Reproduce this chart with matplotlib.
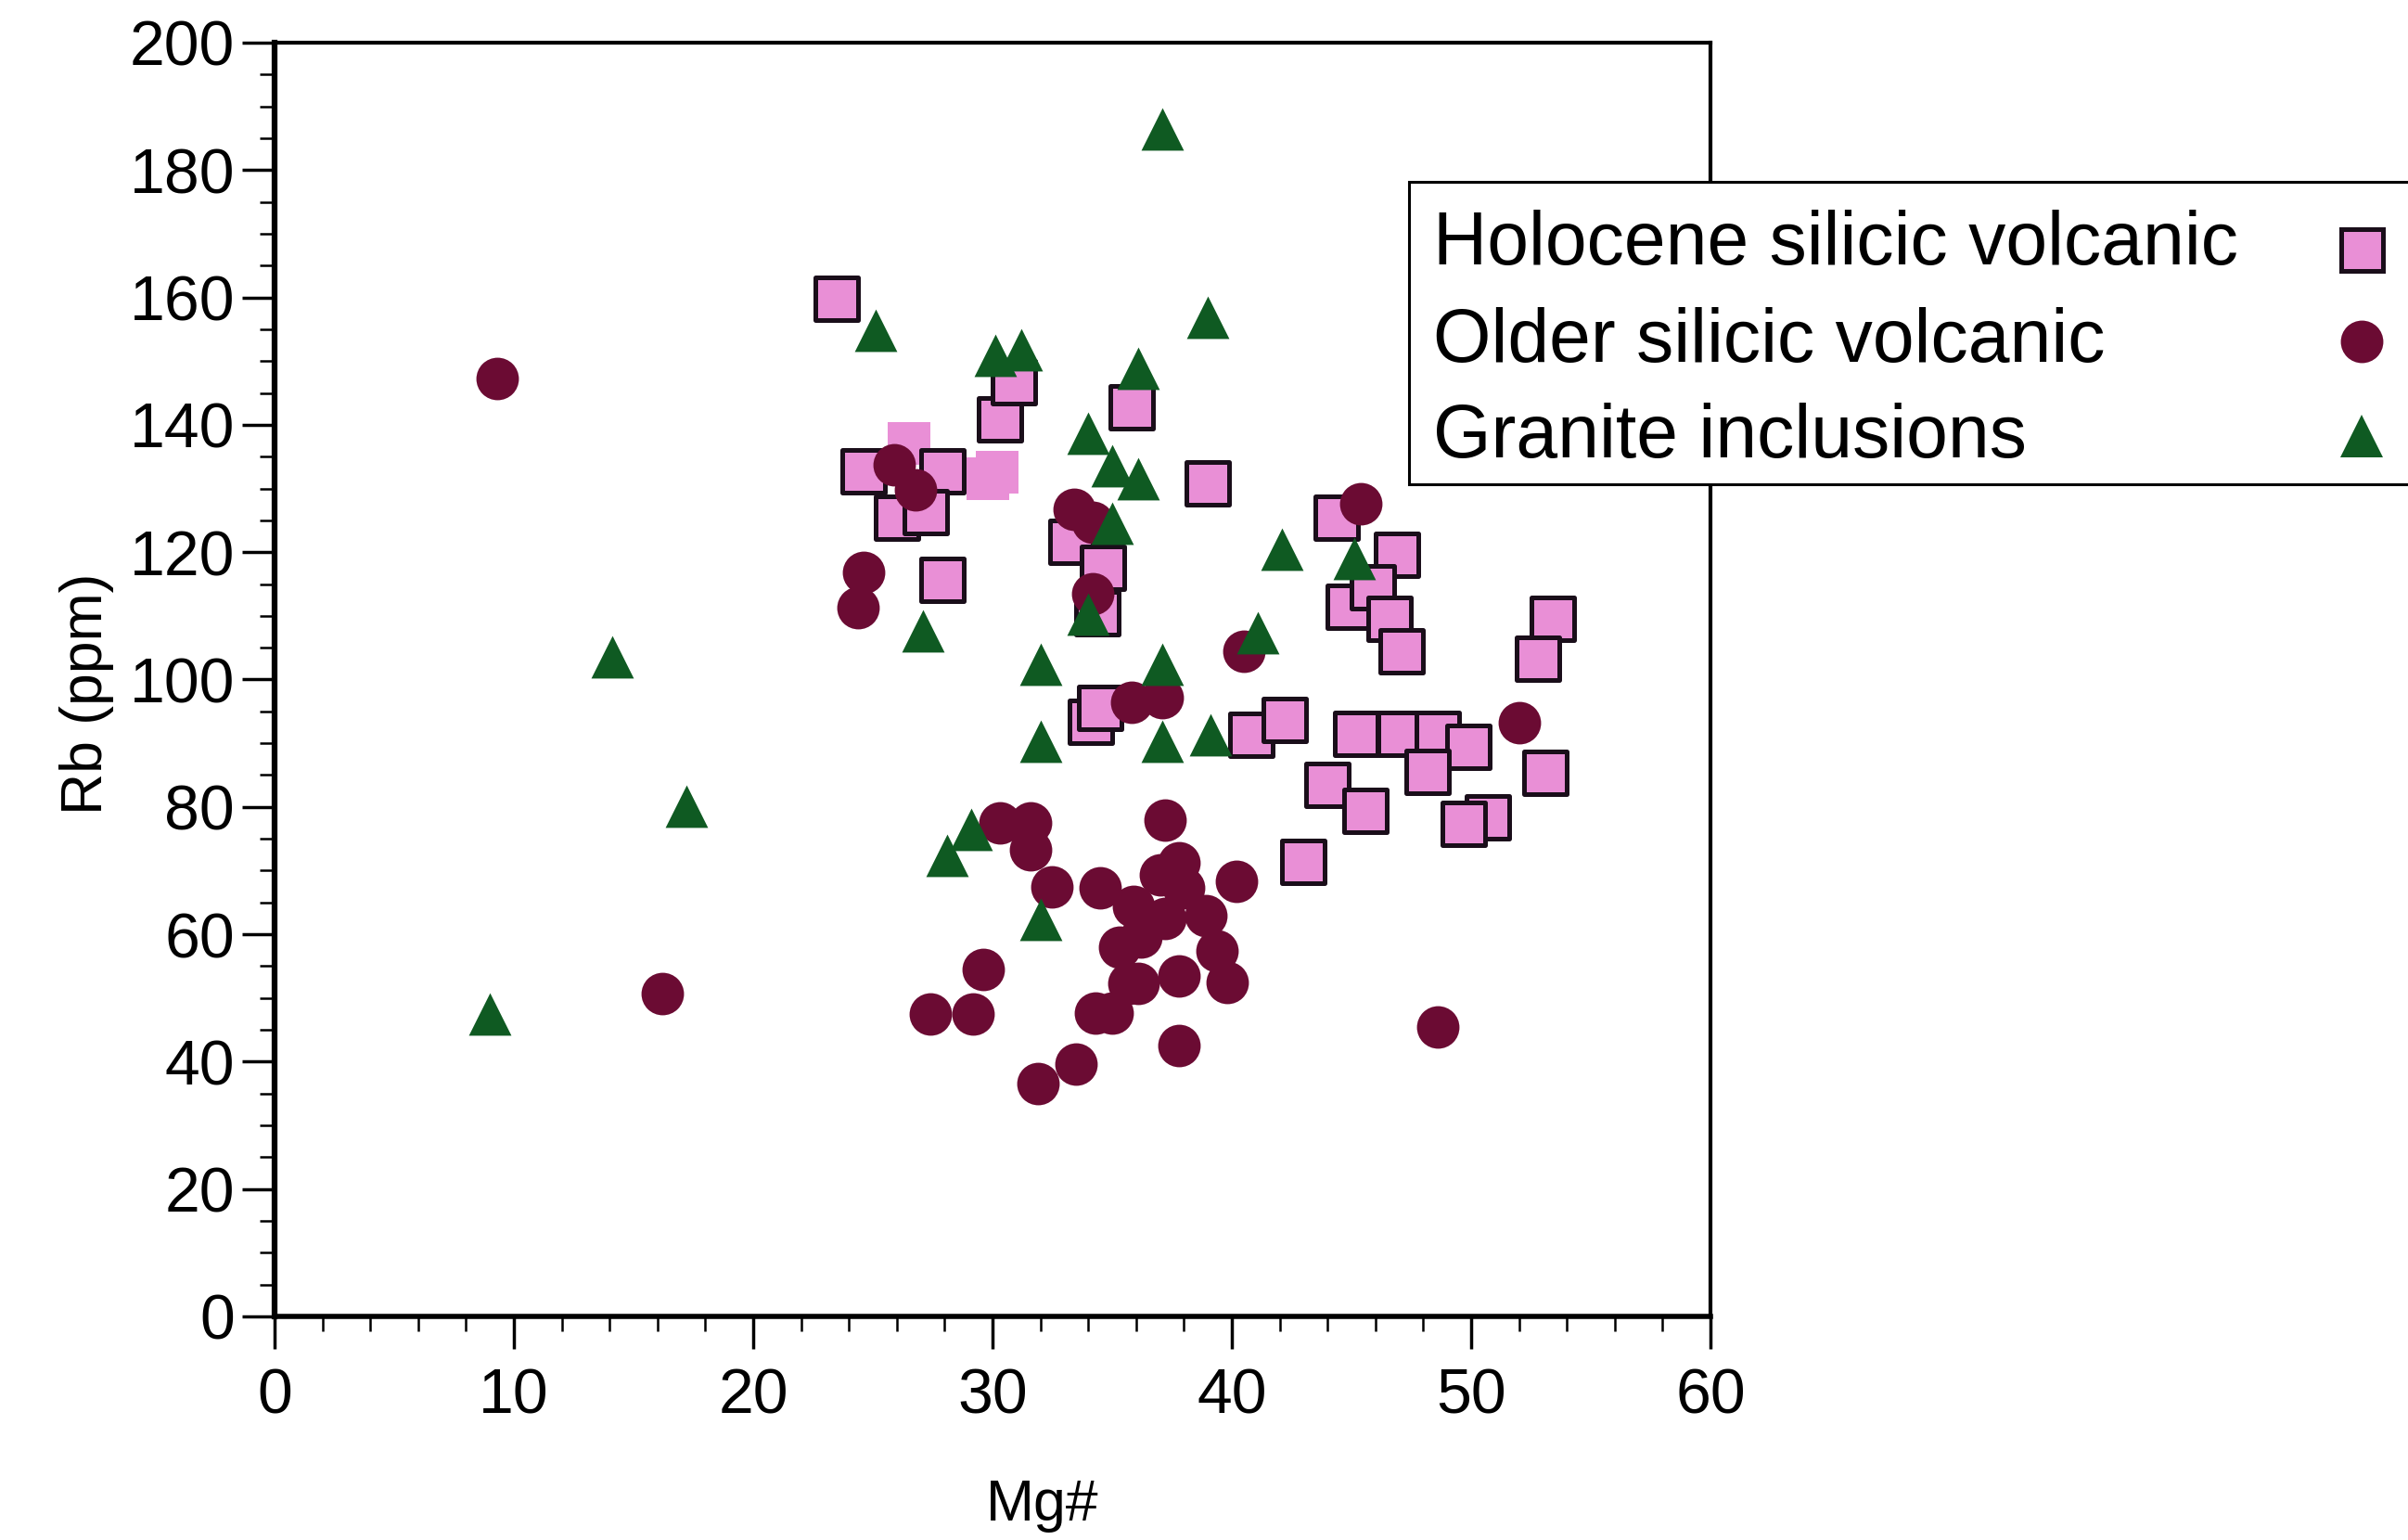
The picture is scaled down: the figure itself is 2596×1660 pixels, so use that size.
import matplotlib.pyplot as plt
from matplotlib.ticker import MultipleLocator
from matplotlib.patches import Rectangle
from matplotlib.lines import Line2D

plt.rcParams['font.family'] = ['Liberation Sans', 'DejaVu Sans']

# Holocene silicic volcanic (outlined squares)
holo_x = [23.5, 24.6, 27.9, 26.0, 27.2, 27.9, 30.3, 30.9, 35.8, 39.0, 33.3, 34.6,
          34.4, 34.1, 34.5, 40.8, 42.2, 44.4, 46.9, 44.9, 45.9, 46.6, 47.1, 53.4,
          52.8, 53.1, 45.2, 47.0, 48.6, 49.9, 48.2, 44.0, 45.6, 50.7, 49.7, 43.0]
holo_y = [159.8, 132.7, 132.7, 125.4, 126.3, 115.7, 140.9, 146.7, 142.8, 130.8, 121.6, 117.5,
          110.4, 93.4, 95.5, 91.4, 93.6, 125.4, 119.6, 111.4, 114.5, 109.5, 104.5, 109.5,
          103.3, 85.4, 91.5, 91.5, 91.5, 89.5, 85.5, 83.5, 79.4, 78.4, 77.4, 71.4]
# Holocene points printed without outline
holo2_x = [26.5, 29.8, 30.2]
holo2_y = [137.0, 131.6, 132.6]

# Older silicic volcanic (circles)
old_x = [9.3, 16.2, 48.6, 25.9, 26.8, 24.6, 24.4, 33.4, 34.2, 34.2, 40.5, 35.8,
         37.1, 45.4, 52.0, 30.3, 31.6, 31.6, 32.5, 29.6, 29.2, 27.4, 31.9, 33.5,
         37.8, 37.2, 40.2, 34.5, 37.0, 37.8, 38.0, 38.9, 39.4, 39.8, 37.8, 35.3,
         35.7, 36.1, 34.3, 35.0, 35.9, 37.2, 36.2]
old_y = [147.2, 50.7, 45.4, 133.7, 129.8, 116.8, 111.3, 126.7, 124.7, 113.5, 104.5, 96.5,
         97.2, 127.6, 93.2, 77.5, 77.5, 73.3, 67.4, 54.5, 47.5, 47.5, 36.5, 39.6,
         42.5, 77.9, 68.3, 67.3, 69.3, 71.2, 67.3, 62.9, 57.4, 52.4, 53.4, 57.9,
         52.3, 52.3, 47.6, 47.6, 64.4, 62.5, 59.6]

# Granite inclusions (triangles)
gran_x = [37.1, 25.1, 30.1, 31.2, 39.0, 36.1, 34.0, 35.0, 36.1, 35.0, 34.0, 27.1,
          41.1, 42.1, 45.1, 32.0, 37.1, 32.0, 37.1, 39.1, 28.1, 29.1, 32.0, 14.1,
          17.2, 9.0]
gran_y = [186.5, 154.9, 150.9, 151.8, 156.9, 148.9, 138.7, 133.6, 131.6, 124.5, 110.3, 107.6,
          107.4, 120.5, 119.0, 102.4, 102.4, 90.3, 90.3, 91.3, 72.4, 76.5, 62.4, 103.5,
          80.1, 47.5]

labels = ['Holocene silicic volcanic', 'Older silicic volcanic', 'Granite inclusions']

pink = '#E98FD6'
maroon = '#6B0B33'
green = '#0F5A22'
edge = '#1A0E1A'

W, H = 2596, 1660
fig = plt.figure(figsize=(W / 100, H / 100), dpi=100)
ax = fig.add_axes([0.1140, 0.1452, 0.5963, 0.8271])

ax.scatter(holo2_x, holo2_y, s=1050, marker='s', color=pink, linewidths=0, zorder=2)
ax.scatter(holo_x, holo_y, s=1050, marker='s', facecolor=pink, edgecolor=edge,
           linewidths=3.6, zorder=3)
ax.scatter(old_x, old_y, s=1089, marker='o', color=maroon, linewidths=0, zorder=4)
ax.scatter(gran_x, gran_y, s=1089, marker='^', color=green, linewidths=0, zorder=5)

ax.set_xlim(0, 60)
ax.set_ylim(0, 200)
ax.xaxis.set_major_locator(MultipleLocator(10))
ax.xaxis.set_minor_locator(MultipleLocator(2))
ax.yaxis.set_major_locator(MultipleLocator(20))
ax.yaxis.set_minor_locator(MultipleLocator(5))

ax.tick_params(axis='both', which='major', direction='out', length=25, width=2.5,
               labelsize=49, colors='black')
ax.tick_params(axis='both', which='minor', direction='out', length=11.5, width=1.8)
ax.tick_params(axis='x', which='major', pad=14)
ax.tick_params(axis='y', which='major', pad=6)

ax.spines['left'].set_linewidth(4.5)
ax.spines['bottom'].set_linewidth(4)
ax.spines['top'].set_linewidth(3)
ax.spines['right'].set_linewidth(3)

ax.set_xlabel('Mg#', fontsize=45, va='top')
ax.set_ylabel('Rb (ppm)', fontsize=45)
ax.xaxis.set_label_coords(0.535, -0.127)
ax.yaxis.set_label_coords(-0.112, 0.489)

# legend box: text on the left, symbol on the right, running off the page edge
fig.add_artist(Rectangle((1519 / W, 1 - 522 / H), (W + 20 - 1519) / W, (522 - 196) / H,
                         transform=fig.transFigure, facecolor='white',
                         edgecolor='black', linewidth=2.2, zorder=10))
baselines = [285, 390, 493]
marker_y = [269, 368, 470]
styles = [dict(marker='s', markersize=32.4, markerfacecolor=pink, markeredgecolor=edge,
               markeredgewidth=3.6),
          dict(marker='o', markersize=33, markerfacecolor=maroon, markeredgewidth=0),
          dict(marker='^', markersize=33, markerfacecolor=green, markeredgewidth=0)]
for lab, by, my, st in zip(labels, baselines, marker_y, styles):
    fig.text(1545 / W, 1 - by / H, lab, fontsize=58, ha='left', va='baseline', zorder=11)
    fig.add_artist(Line2D([2546 / W], [1 - my / H], transform=fig.transFigure,
                          linestyle='none', zorder=11, **st))

fig.savefig('out.png', dpi=100)
